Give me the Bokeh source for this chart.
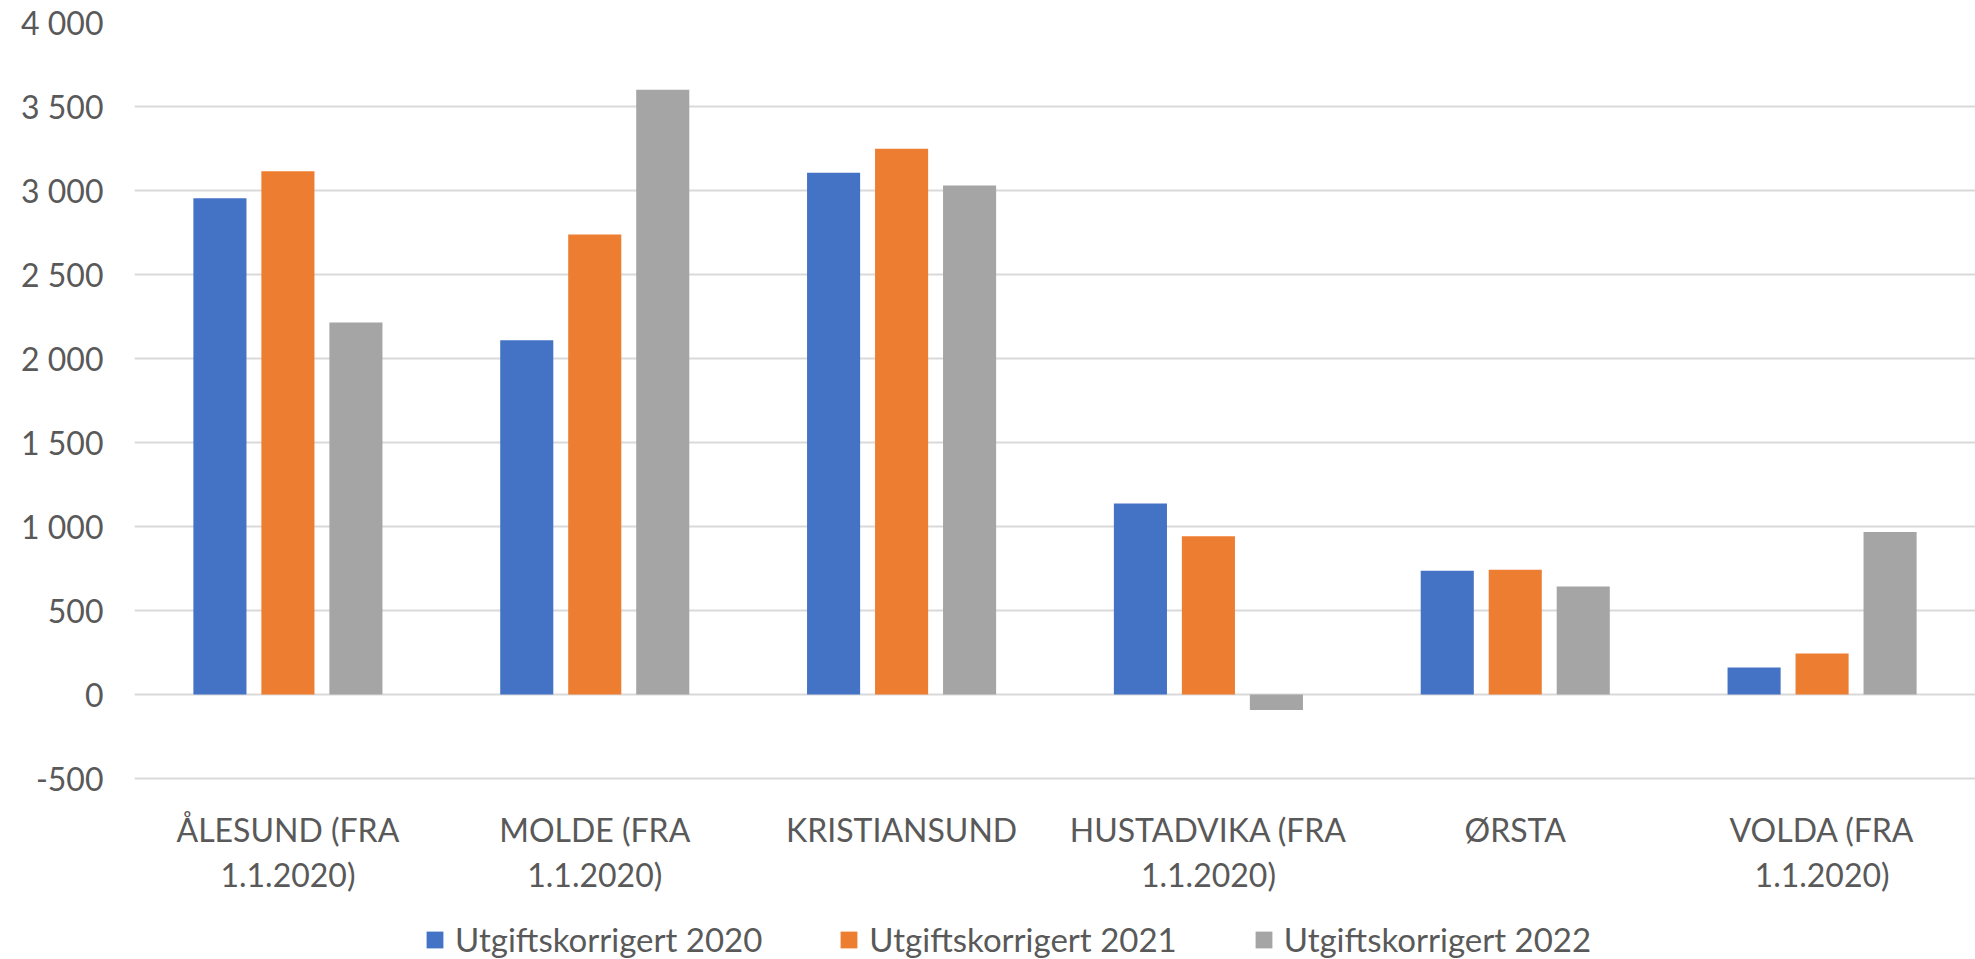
from bokeh.plotting import figure
from bokeh.models import (FactorRange, Range1d, FixedTicker, Legend, LegendItem,
                          ColumnDataSource)
from bokeh.core.properties import value
from bokeh.transform import dodge
from bokeh.embed import file_html
from bokeh.resources import INLINE

categories = ["ÅLESUND (FRA 1.1.2020)", "MOLDE (FRA 1.1.2020)", "KRISTIANSUND",
              "HUSTADVIKA (FRA 1.1.2020)", "ØRSTA", "VOLDA (FRA 1.1.2020)"]
label_line1 = ["ÅLESUND (FRA", "MOLDE (FRA", "KRISTIANSUND", "HUSTADVIKA (FRA", "ØRSTA", "VOLDA (FRA"]
label_line2 = ["1.1.2020)", "1.1.2020)", "", "1.1.2020)", "", "1.1.2020)"]
series_names = ["Utgiftskorrigert 2020", "Utgiftskorrigert 2021", "Utgiftskorrigert 2022"]
v2020 = [2954, 2109, 3105, 1137, 736, 161]
v2021 = [3115, 2738, 3248, 942, 742, 244]
v2022 = [2215, 3600, 3030, -93, 643, 968]
y_ticks = [-500, 0, 500, 1000, 1500, 2000, 2500, 3000, 3500, 4000]
y_tick_labels = ["-500", "0", "500", "1 000", "1 500", "2 000", "2 500", "3 000", "3 500", "4 000"]

colors = ["#4472C4", "#ED7D31", "#A5A5A5"]
FONT = "Lato"
TXT = "#595959"

W, H = 1975, 959
TOP, LEFT = 22, 134
# frame reaches the bottom of the canvas; gridlines only at the ticks
px_per_unit = 84.0 / 500.0
frame_h = H - TOP
y_max = y_ticks[-1]
y_min = y_max - frame_h / px_per_unit

source = ColumnDataSource(data=dict(cat=categories, v2020=v2020, v2021=v2021, v2022=v2022,
                                    l1=label_line1, l2=label_line2))

p = figure(x_range=FactorRange(factors=categories, range_padding=0),
           y_range=Range1d(y_min, y_max),
           width=W, height=H, output_backend="svg", toolbar_location=None,
           x_axis_location=None,
           min_border_left=LEFT, min_border_right=0, min_border_top=TOP, min_border_bottom=0)
p.outline_line_color = None
p.background_fill_color = "white"
p.border_fill_color = "white"

offsets = [-0.2216, 0.0, 0.2216]
renderers = []
for col, off, c in zip(["v2020", "v2021", "v2022"], offsets, colors):
    r = p.vbar(x=dodge("cat", off, range=p.x_range), top=col, bottom=0, width=0.173,
               source=source, fill_color=c, line_color=None)
    renderers.append(r)

p.xgrid.grid_line_color = None
p.ygrid.grid_line_color = "#D9D9D9"
p.ygrid.grid_line_width = 2
p.ygrid.ticker = FixedTicker(ticks=y_ticks)

p.yaxis.ticker = FixedTicker(ticks=y_ticks)
p.yaxis.major_label_overrides = {t: l for t, l in zip(y_ticks, y_tick_labels)}
p.yaxis.axis_line_color = None
p.yaxis.major_tick_line_color = None
p.yaxis.minor_tick_line_color = None
p.yaxis.major_tick_out = 0
p.yaxis.major_label_standoff = 31
p.yaxis.major_label_text_font = FONT
p.yaxis.major_label_text_font_size = "32px"
p.yaxis.major_label_text_color = TXT

# category labels (two lines) below the lowest gridline
y_line1 = y_ticks[0] - 50.5 / px_per_unit
y_line2 = y_ticks[0] - 96.0 / px_per_unit
for col, yy in (("l1", y_line1), ("l2", y_line2)):
    p.text(x="cat", y=yy, text=col, source=source, text_align="center",
           text_baseline="alphabetic", text_font=value(FONT), text_font_size="32px",
           text_color=TXT)

legend = Legend(items=[LegendItem(label=n, renderers=[r]) for n, r in zip(series_names, renderers)],
                orientation="horizontal", location=(290, 0),
                label_text_font=FONT, label_text_font_size="33px", label_text_color=TXT,
                glyph_width=21, glyph_height=21, label_standoff=10, spacing=76,
                padding=0, margin=0, border_line_color=None, background_fill_alpha=0)
p.add_layout(legend, "center")

open("out.html", "w").write(file_html(p, INLINE))
